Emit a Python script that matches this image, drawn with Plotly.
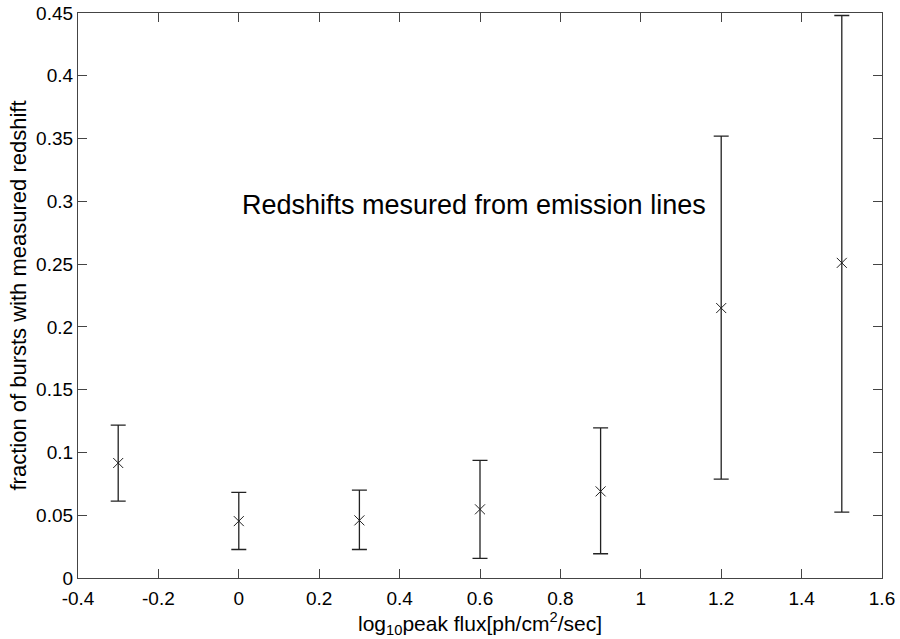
import plotly.graph_objects as go

x_vals = [-0.3, 0.0, 0.3, 0.6, 0.9, 1.2, 1.5]
y_vals = [0.0916, 0.0453, 0.0459, 0.0547, 0.069, 0.215, 0.251]
y_upper = [0.1217, 0.0682, 0.0700, 0.0937, 0.1195, 0.352, 0.448]
y_lower = [0.0613, 0.0227, 0.0227, 0.0156, 0.0193, 0.0788, 0.0525]

x_ticks = [-0.4, -0.2, 0, 0.2, 0.4, 0.6, 0.8, 1, 1.2, 1.4, 1.6]
x_labels = ["-0.4", "-0.2", "0", "0.2", "0.4", "0.6", "0.8", "1", "1.2", "1.4", "1.6"]
y_ticks = [0, 0.05, 0.1, 0.15, 0.2, 0.25, 0.3, 0.35, 0.4, 0.45]
y_labels = ["0", "0.05", "0.1", "0.15", "0.2", "0.25", "0.3", "0.35", "0.4", "0.45"]

err_plus = [u - y for u, y in zip(y_upper, y_vals)]
err_minus = [y - l for l, y in zip(y_lower, y_vals)]

FONT = "Liberation Sans, Arial, Helvetica"

fig = go.Figure()
fig.add_trace(go.Scatter(
    x=x_vals, y=y_vals, mode="markers",
    marker=dict(symbol="x-thin", size=10, line=dict(width=1, color="#222")),
    error_y=dict(type="data", symmetric=False, array=err_plus, arrayminus=err_minus,
                 color="#222", thickness=1.3, width=7.5),
    showlegend=False,
))

fig.add_annotation(x=0.585, y=0.297, text="Redshifts mesured from emission lines",
                   showarrow=False, font=dict(size=27, color="black", family=FONT))

axis_common = dict(showline=True, linecolor="#444", linewidth=1.2, mirror="ticks",
                   ticks="inside", ticklen=9, tickcolor="#444", showgrid=False, zeroline=False,
                   automargin=False,
                   tickfont=dict(size=19, color="black", family=FONT))

fig.update_xaxes(range=[-0.4, 1.6], tickvals=x_ticks, ticktext=x_labels, ticklabelstandoff=3,
                 title=dict(text="log<sub>10</sub>peak flux[ph/cm<sup>2</sup>/sec]",
                            font=dict(size=21, color="black", family=FONT), standoff=0),
                 **axis_common)
fig.update_yaxes(range=[0, 0.45], tickvals=y_ticks, ticktext=y_labels,
                 title=dict(text="fraction of bursts with measured redshift",
                            font=dict(size=22, color="black", family=FONT), standoff=3),
                 **axis_common)

fig.update_layout(width=900, height=639, margin=dict(l=78, r=18, t=13, b=61),
                  plot_bgcolor="white", paper_bgcolor="white")

fig.write_html("out.html")
